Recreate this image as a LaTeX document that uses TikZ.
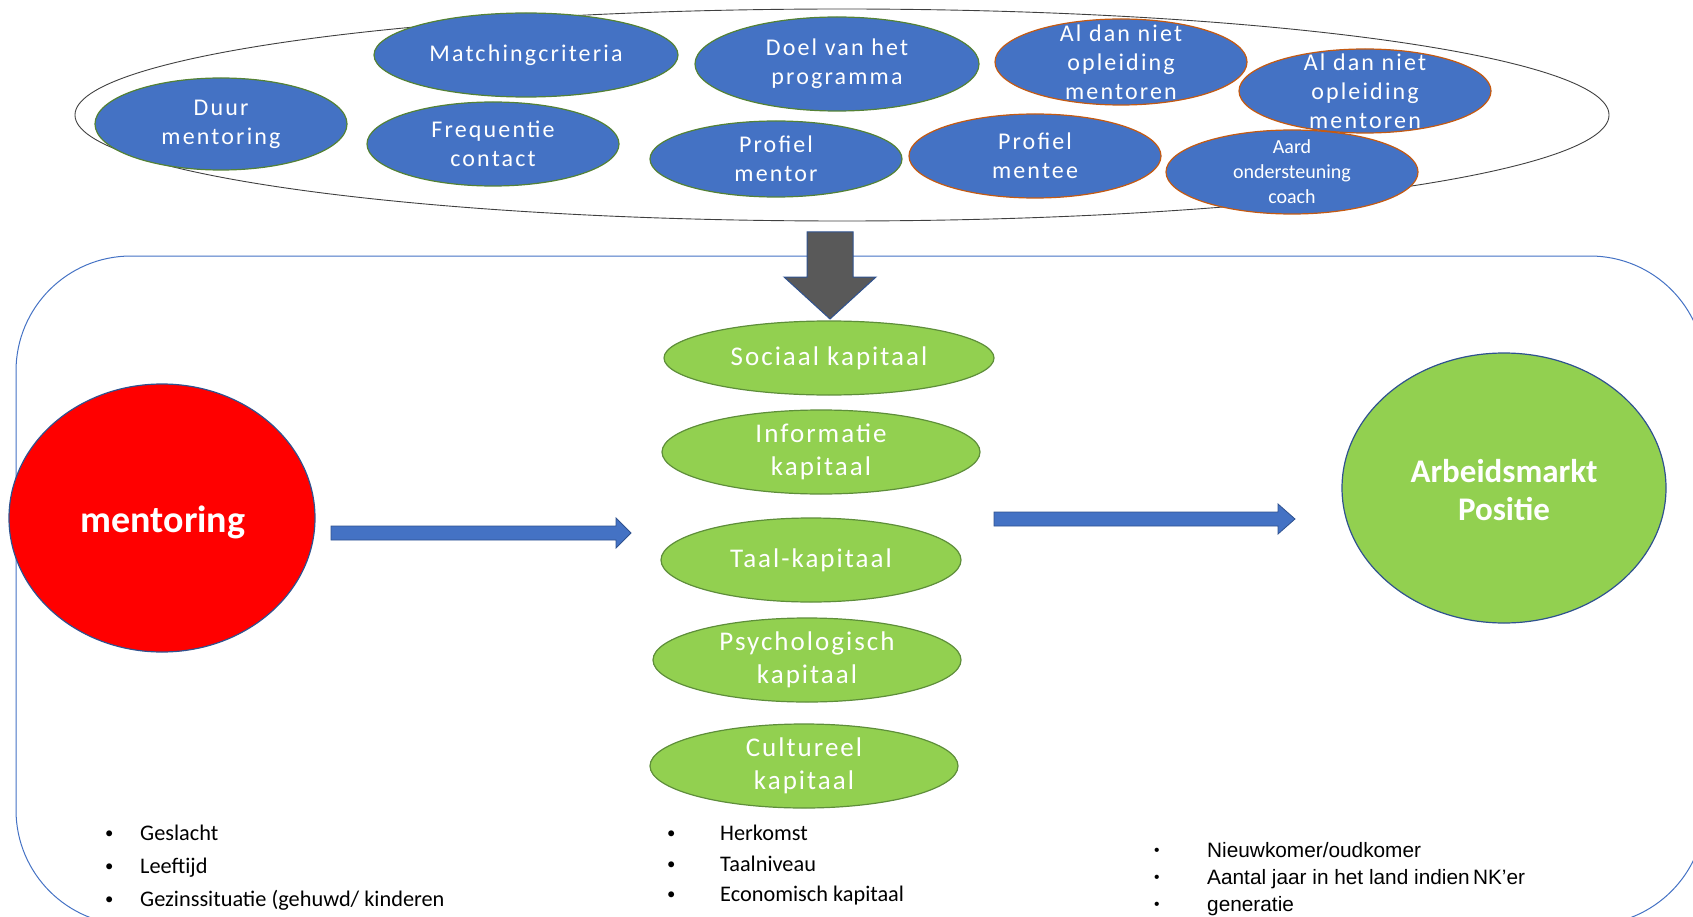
\documentclass[tikz,border=0pt]{standalone}
\usepackage{fontspec}
\setmainfont{Carlito}
\newfontfamily\arialfont{Liberation Sans}
\usetikzlibrary{shapes.geometric}
\definecolor{blobblue}{HTML}{4472C4}
\definecolor{edgegreen}{HTML}{548235}
\definecolor{edgeorange}{HTML}{C55A11}
\definecolor{capgreen}{HTML}{92D050}
\definecolor{capedge}{HTML}{5E8E3A}
\definecolor{darkedge}{HTML}{2F528F}
\definecolor{arrowgray}{HTML}{595959}
\newcommand{\blt}[1][33pt]{\makebox[#1][l]{\hspace*{-3pt}\raisebox{0.08em}{\scalebox{0.75}{•}}}}
\tikzset{
  frame/.style={
    draw=blobblue,
    line width=1pt,
    rounded corners=115pt,
    inner sep=0pt
  },
  cloud/.style={
    ellipse,
    draw=black!75,
    line width=0.9pt,
    inner sep=0pt
  },
  topblob/.style={
    ellipse,
    fill=blobblue,
    draw=edgegreen,
    line width=1.2pt,
    inner sep=0pt,
    minimum width=252pt,
    minimum height=84pt
  },
  orangeblob/.style={
    topblob,
    draw=edgeorange
  },
  blobtext/.style={
    text=white,
    align=center,
    inner sep=0pt,
    font=\fontsize{24}{29}\selectfont\addfontfeatures{LetterSpace=9}
  },
  capital/.style={
    ellipse,
    fill=capgreen,
    draw=capedge,
    line width=1.2pt,
    inner sep=0pt,
    minimum height=84pt
  },
  captext/.style={
    text=white,
    align=center,
    inner sep=0pt,
    font=\fontsize{27}{33.5}\selectfont\addfontfeatures{LetterSpace=7.5}
  },
  bigblob/.style={
    ellipse,
    draw=darkedge,
    line width=1.2pt,
    inner sep=0pt
  },
  blockarrow/.style={
    fill=blobblue,
    draw=darkedge,
    line width=0.8pt
  },
  downarrow/.style={
    fill=arrowgray,
    draw=darkedge,
    line width=1pt
  },
  bullets/.style={
    align=left,
    anchor=north west,
    inner sep=0pt
  }
}

\begin{document}
\begin{tikzpicture}[x=1pt,y=-1pt]
  \useasboundingbox (0,0) rectangle (1693,917);
  \clip (0,0) rectangle (1693,917);
  \node[frame, minimum width=1689pt, minimum height=669pt] (frame) at (860.5,590.5) {};
  \node[cloud, minimum width=1534pt, minimum height=212pt] (cloud) at (842,115) {};

  \node[topblob, minimum height=92pt] (duur) at (221,124) {};
  \node[blobtext] (duur-t) at (duur) {Duur\\mentoring};
  \node[topblob, minimum width=304pt] (matching) at (526,55) {};
  \node[blobtext] (matching-t) at (matching) {Matchingcriteria};
  \node[topblob] (freq) at (493,144) {};
  \node[blobtext] (freq-t) at (freq) {Frequentie\\contact};
  \node[topblob, minimum width=284pt, minimum height=94pt] (doel) at (837,64) {};
  \node[blobtext] (doel-t) at (doel) {Doel van het\\programma};
  \node[topblob, minimum height=76pt] (pmentor) at (776,159) {};
  \node[blobtext] (pmentor-t) at (pmentor) {Profiel\\mentor};
  \node[orangeblob, minimum height=86pt] (aldan) at (1121,62) {};
  \node[blobtext] (aldan-t) at (aldan) {Al dan niet\\opleiding\\mentoren};
  \node[orangeblob] (aldanb) at (1365,91) {};
  \node[blobtext] (aldanb-t) at (aldanb) {Al dan niet\\opleiding\\mentoren};
  \node[orangeblob] (pmentee) at (1035,156) {};
  \node[blobtext] (pmentee-t) at (pmentee) {Profiel\\mentee};
  \node[orangeblob] (aard) at (1292,172) {};
  \node[blobtext, font=\fontsize{20}{25}\selectfont] (aard-t) at (aard) {Aard\\ondersteuning\\coach};

  \draw[downarrow] (807,232) -- (853,232) -- (853,277) -- (876,277) -- (830,319)
    -- (784,277) -- (807,277) -- cycle;

  \node[capital, minimum width=330pt, minimum height=74pt] (sociaal) at (829,358) {};
  \node[captext] (sociaal-t) at (sociaal) {Sociaal kapitaal};
  \node[capital, minimum width=318pt] (info) at (821,452) {};
  \node[captext] (info-t) at (info) {Informatie\\kapitaal};
  \node[capital, minimum width=300pt] (taal) at (811,560) {};
  \node[captext] (taal-t) at (taal) {Taal-kapitaal};
  \node[capital, minimum width=308pt] (psych) at (807,660) {};
  \node[captext] (psych-t) at (psych) {Psychologisch\\kapitaal};
  \node[capital, minimum width=308pt] (cultureel) at (804,766) {};
  \node[captext] (cultureel-t) at (cultureel) {Cultureel\\kapitaal};

  \node[bigblob, fill=red, minimum width=306pt, minimum height=268pt] (mentoring) at (162,518) {};
  \node[text=white, font=\fontsize{38}{44}\selectfont\bfseries] (mentoring-t) at (163,522) {mentoring};
  \node[bigblob, fill=capgreen, minimum width=324pt, minimum height=270pt] (arbeid) at (1504,488) {};
  \node[text=white, align=center, font=\fontsize{33}{38}\selectfont\bfseries] (arbeid-t) at (1504,490) {Arbeidsmarkt\\Positie};

  \draw[blockarrow] (331,526) -- (616,526) -- (616,518) -- (631,533) -- (616,548)
    -- (616,540) -- (331,540) -- cycle;
  \draw[blockarrow] (994,512) -- (1278,512) -- (1278,504) -- (1295,519) -- (1278,534)
    -- (1278,526) -- (994,526) -- cycle;

  \node[bullets, font=\fontsize{22.3}{33}\selectfont] (persoon) at (108,825)
    {\blt[32pt]Geslacht\\\blt[32pt]Leeftijd\\\blt[32pt]Gezinssituatie (gehuwd/ kinderen};
  \node[bullets, font=\fontsize{22.3}{30.5}\selectfont] (achtergrond) at (670,825)
    {\blt[50pt]Herkomst\\\blt[50pt]Taalniveau\\\blt[50pt]Economisch kapitaal};
  \node[bullets, font=\arialfont\fontsize{20.8}{27}\selectfont] (migratie) at (1157,842)
    {\blt[50pt]Nieuwkomer/oudkomer\\\blt[50pt]Aantal jaar in het land indien\,NK’er\\\blt[50pt]generatie};
\end{tikzpicture}
\end{document}
